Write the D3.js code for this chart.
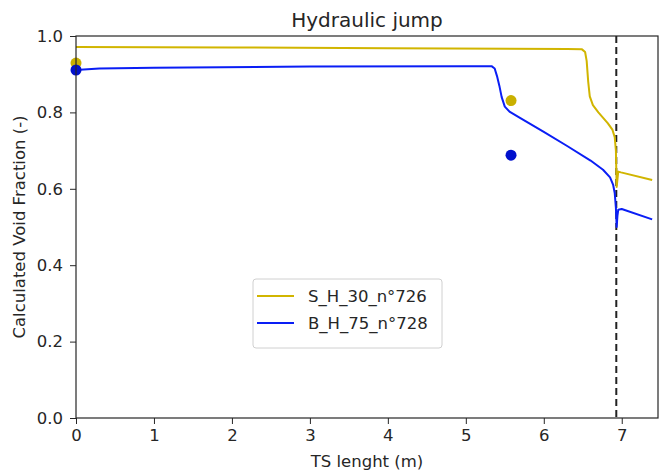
<!DOCTYPE html>
<html>
<head>
<meta charset="utf-8">
<script src="https://cdn.jsdelivr.net/npm/d3@7"></script>
<style>
  body { margin: 0; background: #fff; }
  text { font-family: "DejaVu Sans", sans-serif; fill: #262626; }
</style>
</head>
<body>
<div id="chart"></div>
<script>
// yellow series (S_H_30_n°726)
var yellowX = [0, 2, 4, 6.3, 6.49, 6.53, 6.55, 6.57, 6.59, 6.63, 6.7, 6.82, 6.88, 6.91, 6.925, 6.93, 6.935, 6.945, 6.955, 6.99, 7.39];
var yellowY = [0.971, 0.970, 0.968, 0.966, 0.965, 0.958, 0.935, 0.88, 0.842, 0.819, 0.80, 0.772, 0.755, 0.735, 0.70, 0.65, 0.605, 0.625, 0.645, 0.643, 0.623];
// blue series (B_H_75_n°728)
var blueX = [0, 0.3, 1, 3, 5, 5.33, 5.37, 5.40, 5.43, 5.46, 5.50, 5.56, 5.7, 6, 6.3, 6.6, 6.76, 6.85, 6.89, 6.91, 6.925, 6.935, 6.945, 6.955, 7.0, 7.39];
var blueY = [0.911, 0.915, 0.917, 0.920, 0.921, 0.921, 0.915, 0.895, 0.87, 0.84, 0.815, 0.802, 0.785, 0.749, 0.712, 0.674, 0.65, 0.63, 0.61, 0.589, 0.55, 0.50, 0.53, 0.545, 0.547, 0.52];
// measured points
var yellowPtsX = [0, 5.58];
var yellowPtsY = [0.929, 0.831];
var bluePtsX = [0, 5.58];
var bluePtsY = [0.911, 0.688];
var jumpX = 6.93;

var seriesNames = ["S_H_30_n°726", "B_H_75_n°728"];
var xTicks = [0, 1, 2, 3, 4, 5, 6, 7];
var yTicks = [0, 0.2, 0.4, 0.6, 0.8, 1.0];

var W = 659, H = 475;
var margin = {top: 36, right: 1, bottom: 57, left: 76};
var width = W - margin.left - margin.right,
    height = H - margin.top - margin.bottom;

var svg = d3.select("#chart").append("svg")
    .attr("width", W).attr("height", H);
var g = svg.append("g")
    .attr("transform", "translate(" + margin.left + "," + margin.top + ")");

var x = d3.scaleLinear().domain([0, 7.465]).range([0, width]);
var y = d3.scaleLinear().domain([0, 1]).range([height, 0]);

var yellow = "#d1b500", blue = "#0a1ef5";

function pairs(xs, ys) { return xs.map(function(v, i) { return [v, ys[i]]; }); }

var line = d3.line()
    .x(function(d) { return x(d[0]); })
    .y(function(d) { return y(d[1]); });

// dashed jump line
g.append("line")
    .attr("x1", x(jumpX)).attr("x2", x(jumpX))
    .attr("y1", 0).attr("y2", height)
    .attr("stroke", "#222").attr("stroke-width", 2)
    .attr("stroke-dasharray", "7,4");

g.append("path").datum(pairs(yellowX, yellowY))
    .attr("fill", "none").attr("stroke", yellow).attr("stroke-width", 2)
    .attr("stroke-linejoin", "round").attr("d", line);
g.append("path").datum(pairs(blueX, blueY))
    .attr("fill", "none").attr("stroke", blue).attr("stroke-width", 2)
    .attr("stroke-linejoin", "round").attr("d", line);

g.selectAll(".ydot").data(pairs(yellowPtsX, yellowPtsY)).enter().append("circle")
    .attr("cx", function(d) { return x(d[0]); })
    .attr("cy", function(d) { return y(d[1]); })
    .attr("r", 5.5).attr("fill", "#c9b000");
g.selectAll(".bdot").data(pairs(bluePtsX, bluePtsY)).enter().append("circle")
    .attr("cx", function(d) { return x(d[0]); })
    .attr("cy", function(d) { return y(d[1]); })
    .attr("r", 5.5).attr("fill", "#0010cc");

// axes
var xAxis = g.append("g")
    .attr("transform", "translate(0," + height + ")")
    .call(d3.axisBottom(x).tickValues(xTicks).tickFormat(d3.format("d")).tickSizeOuter(0).tickSize(6).tickPadding(5));
var yAxis = g.append("g")
    .call(d3.axisLeft(y).tickValues(yTicks).tickFormat(d3.format(".1f")).tickSizeOuter(0).tickSize(6).tickPadding(7));
[xAxis, yAxis].forEach(function(a) {
  a.select(".domain").remove();
  a.selectAll("line").attr("stroke", "#262626");
  a.selectAll("text").attr("font-size", 16.5).attr("fill", "#262626")
      .style("font-family", "DejaVu Sans");
});

// frame
g.append("rect").attr("width", width).attr("height", height)
    .attr("fill", "none").attr("stroke", "#262626").attr("stroke-width", 1.2);

// labels
svg.append("text").attr("x", margin.left + width / 2).attr("y", 27)
    .attr("text-anchor", "middle").attr("font-size", 20).text("Hydraulic jump");
svg.append("text").attr("x", margin.left + width / 2).attr("y", 467)
    .attr("text-anchor", "middle").attr("font-size", 16.5).text("TS lenght (m)");
svg.append("text")
    .attr("transform", "translate(25," + (margin.top + height / 2) + ") rotate(-90)")
    .attr("text-anchor", "middle").attr("font-size", 16.5).text("Calculated Void Fraction (-)");

// legend
var lg = svg.append("g").attr("transform", "translate(253,279)");
lg.append("rect").attr("width", 189).attr("height", 69).attr("rx", 3)
    .attr("fill", "#fff").attr("fill-opacity", 0.8).attr("stroke", "#d0d0d0");
[yellow, blue].forEach(function(c, i) {
  var yy = 17 + i * 27;
  lg.append("line").attr("x1", 4).attr("x2", 41).attr("y1", yy).attr("y2", yy)
      .attr("stroke", c).attr("stroke-width", 2);
  lg.append("text").attr("x", 55).attr("y", yy + 6).attr("font-size", 16.5)
      .text(seriesNames[i]);
});
</script>
</body>
</html>
